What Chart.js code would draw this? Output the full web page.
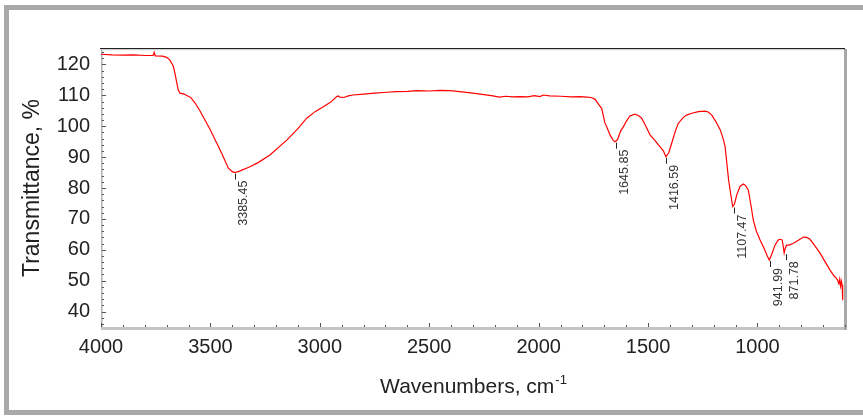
<!DOCTYPE html>
<html><head><meta charset="utf-8">
<script src="https://cdn.jsdelivr.net/npm/chart.js@4.4.0/dist/chart.umd.min.js"></script>
<style>html,body{margin:0;padding:0;background:#fff;overflow:hidden}#wrap{width:863px;height:416px;position:relative}</style>
</head><body><div id="wrap"><canvas id="c" width="863" height="416"></canvas></div>
<script>
const wavenumbers = [4000,3950,3900,3850,3800,3770,3760,3757,3752,3720,3700,3685,3670,3662,3655,3647,3639,3620,3600,3590,3570,3548,3502,3448,3418,3400,3388,3370,3319,3280,3228,3151,3100,3060,3020,2984,2950,2923,2915,2908,2890,2870,2848,2800,2750,2694,2650,2600,2557,2500,2450,2405,2350,2300,2250,2209,2180,2150,2120,2085,2050,2020,1994,1979,1950,1900,1850,1811,1780,1760,1742,1725,1712,1697,1689,1674,1660,1651,1640,1625,1613,1600,1583,1560,1545,1529,1510,1491,1470,1446,1430,1418,1405,1392,1375,1362,1340,1324,1300,1270,1240,1225,1209,1190,1170,1155,1148,1140,1132,1120,1113,1105,1095,1080,1065,1055,1042,1030,1019,1005,988,970,955,946,935,920,905,897,887,882,878,873,867,855,836,815,790,775,760,740,714,690,669,650,640,634,628,624,620,616,613,611,610];
const transmittance = [123.3,123.1,123.0,123.1,122.9,122.9,123.0,123.9,122.8,122.7,122.3,121.4,119.5,117.1,114.5,111.7,110.7,110.4,109.6,109.3,107.5,105.0,99.0,91.2,86.4,85.3,85.0,85.4,86.9,88.3,90.7,95.5,99.2,102.6,104.8,106.3,107.8,109.6,109.8,109.4,109.3,109.8,110.1,110.4,110.7,111.0,111.2,111.3,111.5,111.4,111.6,111.5,111.1,110.7,110.2,109.8,109.4,109.7,109.5,109.6,109.5,109.9,109.6,110.1,109.8,109.7,109.5,109.6,109.4,109.3,108.7,107.0,105.8,101.0,99.8,97.2,95.5,95.0,95.6,98.5,99.8,101.5,103.3,103.9,103.5,102.6,100.0,97.2,95.5,93.4,92.0,90.1,91.5,94.5,98.5,100.9,102.8,103.6,104.2,104.7,104.9,104.6,103.6,101.5,98.8,95.5,93.4,88.0,82.6,77.0,74.0,74.8,77.7,80.5,81.3,80.8,79.4,74.5,69.6,66.0,63.2,60.5,58.0,56.7,58.5,61.5,63.2,63.4,63.2,61.0,58.9,60.5,61.5,61.5,62.1,63.0,64.1,64.0,63.4,61.5,58.9,56.0,53.5,51.5,50.8,50.2,49.0,50.5,48.2,49.8,48.5,47.5,43.7];
const peakWavenumbers = [3385.45,1645.85,1416.59,1107.47,941.99,871.78];
const peakValues = [85.0,95.0,90.1,74.0,56.7,58.9];
const peakLabels = ['3385.45','1645.85','1416.59','1107.47','941.99','871.78'];
const xTickValues = [4000,3500,3000,2500,2000,1500,1000];
const yTickValues = [40,50,60,70,80,90,100,110,120];
const xAxisTitle = 'Wavenumbers, cm';
const xAxisTitleSup = '-1';
const yAxisTitle = 'Transmittance, %';

const FONT = '"Liberation Sans", Arial, sans-serif';

const decor = {
  id: 'decor',
  beforeDraw(chart) {
    const ctx = chart.ctx;
    ctx.save();
    ctx.fillStyle = '#ffffff';
    ctx.fillRect(0, 0, chart.width, chart.height);
    ctx.strokeStyle = '#a8a8a8';
    ctx.lineWidth = 5;
    ctx.strokeRect(6.5, 7.5, 875, 405);
    ctx.restore();
  },
  beforeDatasetsDraw(chart) {
    const ctx = chart.ctx, a = chart.chartArea;
    const xs = chart.scales.x, ys = chart.scales.y;
    ctx.save();
    ctx.fillStyle = '#c4c4c4';
    ctx.fillRect(a.left, a.bottom, a.right - a.left + 2, 3);
    ctx.fillStyle = '#b0b0b0';
    ctx.fillRect(a.left, a.top, 1.5, a.bottom - a.top);
    ctx.fillStyle = '#a8a8a8';
    ctx.fillRect(a.right - 1, a.top, 3, a.bottom - a.top + 3);
    ctx.fillStyle = '#222';
    ctx.fillRect(a.left - 1, a.top - 1, a.right - a.left + 1, 1.2);
    ctx.fillStyle = '#d0d0d0';
    ctx.fillRect(a.left, a.top + 0.2, a.right - a.left - 1, 1);
    ctx.strokeStyle = '#555';
    ctx.lineWidth = 1;
    ctx.beginPath();
    for (let v = 4000; v >= 600; v -= 100) {
      const x = Math.round(xs.getPixelForValue(v)) + 0.5;
      const len = (v % 500 === 0) ? 4 : 2;
      ctx.moveTo(x, a.bottom); ctx.lineTo(x, a.bottom - len);
    }
    for (let v = 36; v <= 124; v += 2) {
      const y = Math.round(ys.getPixelForValue(v)) + 0.5;
      const len = (v % 10 === 0) ? 4 : 2;
      ctx.moveTo(a.left + 1, y); ctx.lineTo(a.left + 1 + len, y);
    }
    ctx.stroke();
    ctx.restore();
  },
  afterDatasetsDraw(chart) {
    const ctx = chart.ctx, a = chart.chartArea;
    const xs = chart.scales.x, ys = chart.scales.y;
    ctx.save();
    ctx.strokeStyle = '#222';
    ctx.lineWidth = 1;
    ctx.fillStyle = '#333';
    ctx.font = '12.5px ' + FONT;
    peakWavenumbers.forEach((w, i) => {
      const x = Math.round(xs.getPixelForValue(w)) + 0.5;
      const y = ys.getPixelForValue(peakValues[i]);
      ctx.beginPath();
      ctx.moveTo(x, y + 1); ctx.lineTo(x, y + 7);
      ctx.stroke();
      ctx.save();
      ctx.translate(x + 8.5, y + 8);
      ctx.rotate(-Math.PI / 2);
      ctx.textAlign = 'right';
      ctx.textBaseline = 'middle';
      ctx.fillText(peakLabels[i], 0, 0);
      ctx.restore();
    });
    ctx.fillStyle = '#222';
    ctx.font = '21px ' + FONT;
    const w1 = ctx.measureText(xAxisTitle).width;
    ctx.font = '13px ' + FONT;
    const w2 = ctx.measureText(xAxisTitleSup).width;
    const cx = (a.left + a.right) / 2;
    const startX = cx - (w1 + w2) / 2;
    ctx.textAlign = 'left';
    ctx.textBaseline = 'alphabetic';
    ctx.font = '21px ' + FONT;
    ctx.fillText(xAxisTitle, startX, 393);
    ctx.font = '13px ' + FONT;
    ctx.fillText(xAxisTitleSup, startX + w1 + 1, 384);
    ctx.restore();
  }
};

new Chart(document.getElementById('c'), {
  type: 'line',
  data: {
    datasets: [{
      data: wavenumbers.map((w, i) => ({x: w, y: transmittance[i]})),
      borderColor: '#ff0000',
      borderWidth: 1.2,
      pointRadius: 0,
      tension: 0,
      fill: false
    }]
  },
  options: {
    responsive: false,
    animation: false,
    devicePixelRatio: 1,
    layout: {padding: {left: 0, right: 18, top: 49, bottom: 0}},
    plugins: {legend: {display: false}, tooltip: {enabled: false}},
    scales: {
      x: {
        type: 'linear', reverse: true, min: 600, max: 4000,
        afterBuildTicks: s => { s.ticks = xTickValues.map(v => ({value: v})); },
        afterFit: s => { s.height = 89; },
        grid: {display: false, drawTicks: false},
        border: {display: false},
        ticks: {font: {family: FONT, size: 20}, color: '#222', maxRotation: 0, autoSkip: false, padding: 8, callback: v => String(v)}
      },
      y: {
        type: 'linear', min: 35, max: 125,
        afterBuildTicks: s => { s.ticks = yTickValues.map(v => ({value: v})); },
        afterFit: s => { s.width = 101; },
        grid: {display: false, drawTicks: false},
        border: {display: false},
        ticks: {font: {family: FONT, size: 20}, color: '#222', padding: 11, callback: v => String(v)},
        title: {display: true, text: yAxisTitle, font: {family: FONT, size: 23}, color: '#222', padding: {top: 19, bottom: 0}}
      }
    }
  },
  plugins: [decor]
});
</script>
</body></html>
